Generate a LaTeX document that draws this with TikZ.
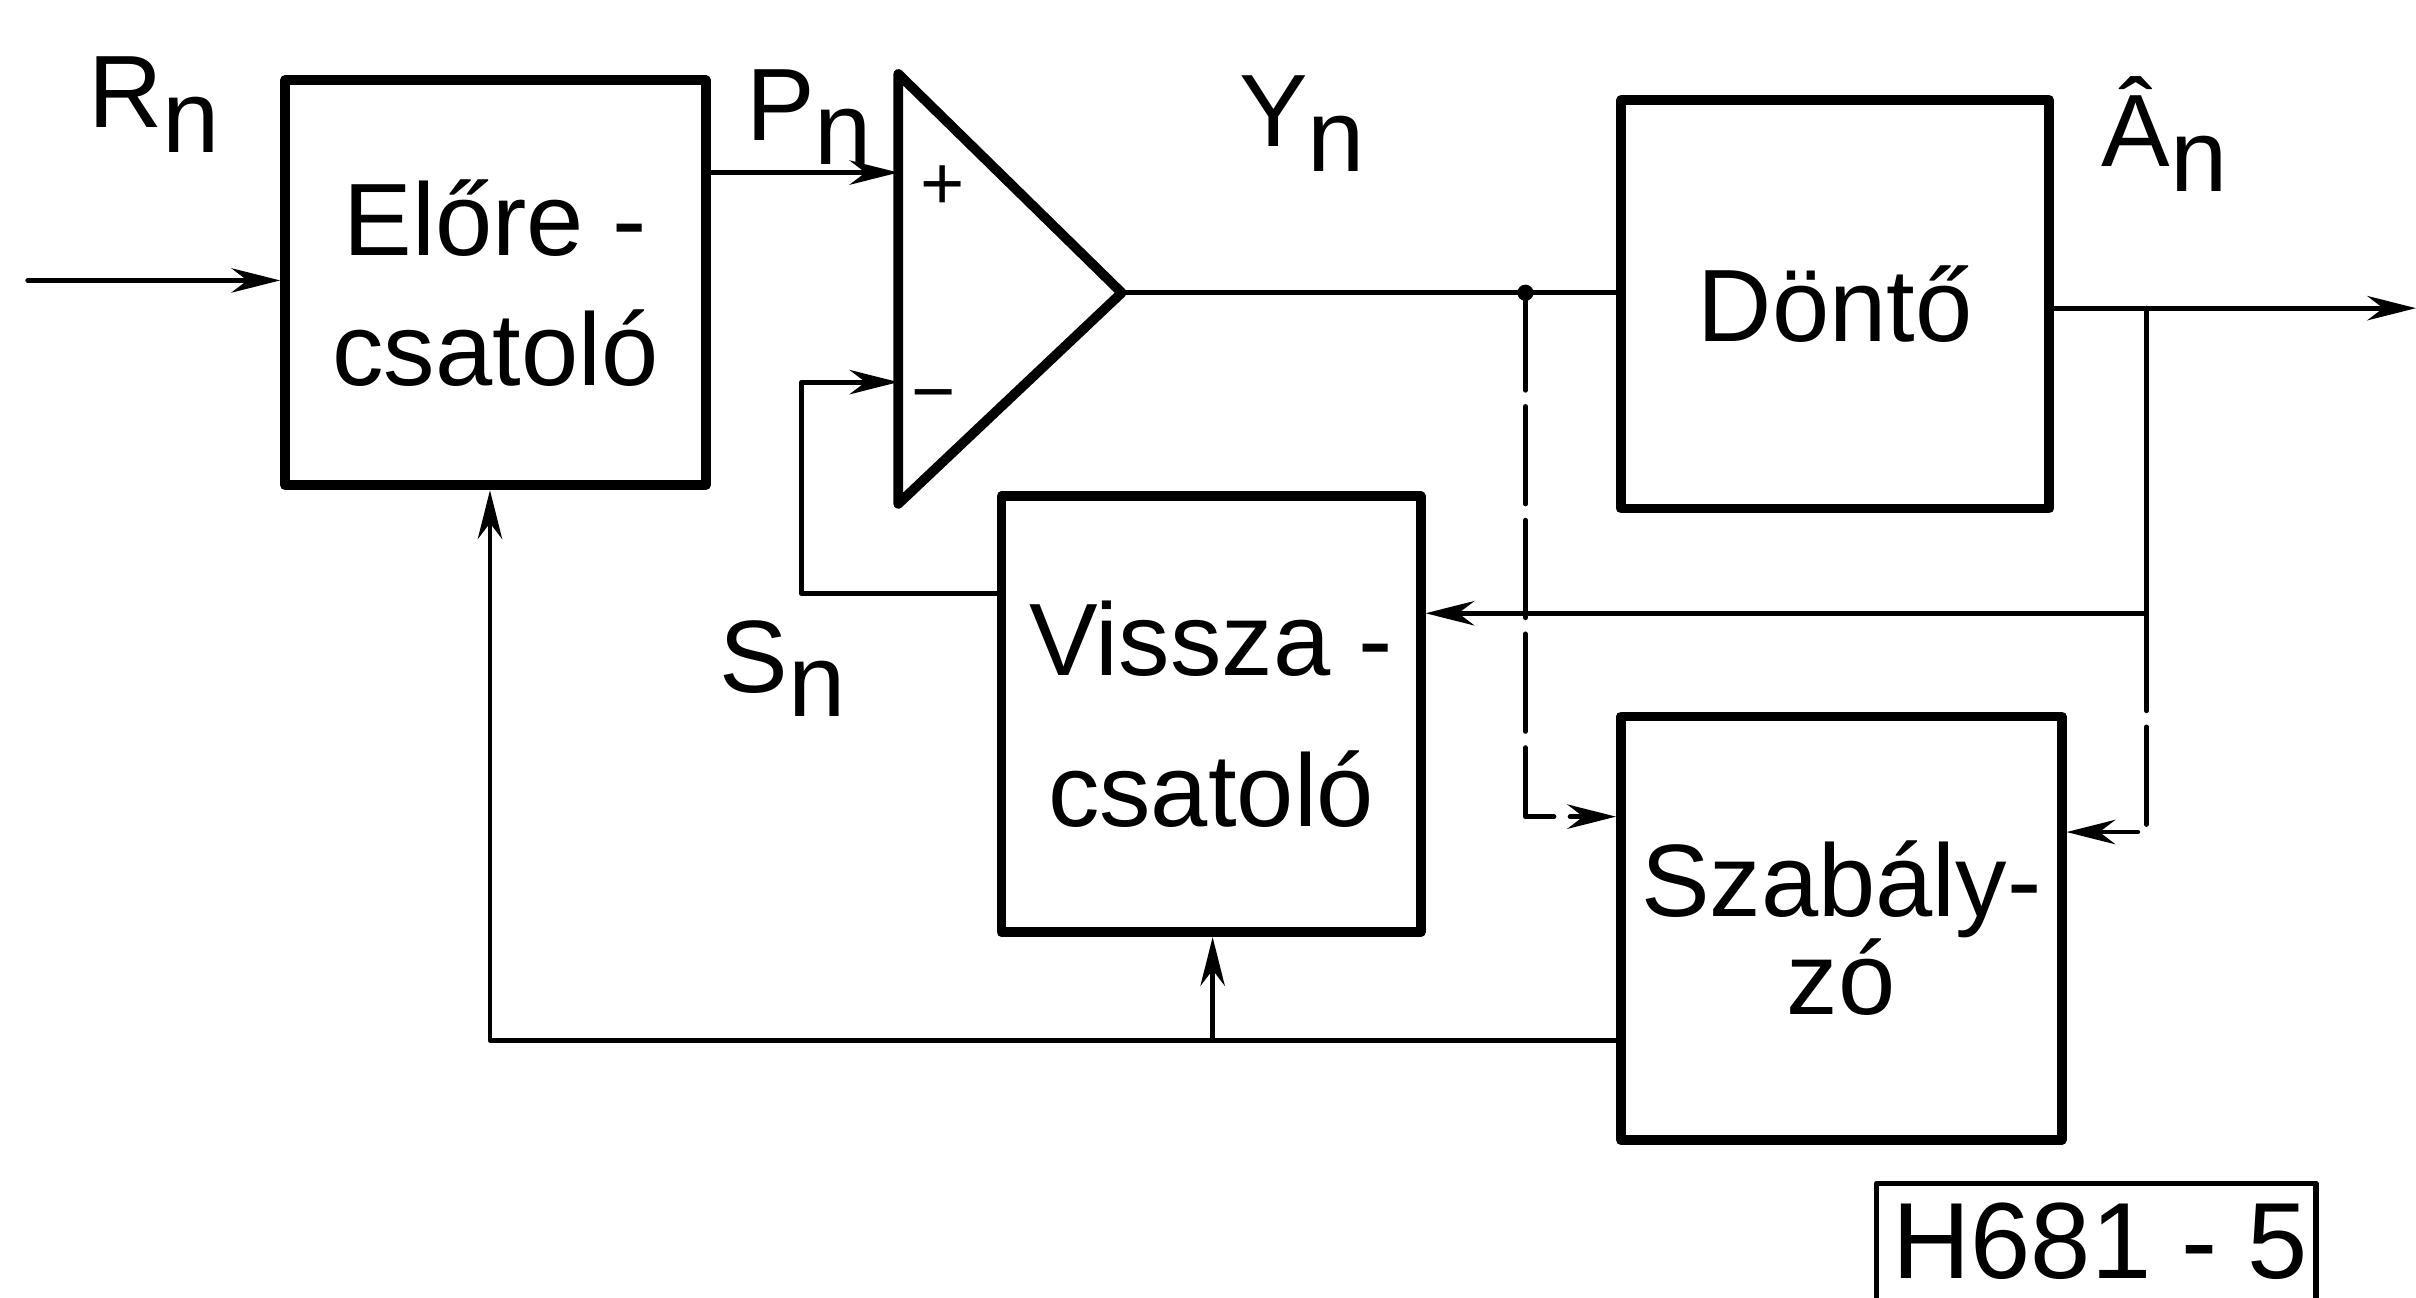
\documentclass[tikz,border=0pt]{standalone}
\usepackage{fontspec}
\setmainfont{Liberation Sans}
\usetikzlibrary{arrows.meta}
\newcommand{\idx}[2]{#1\raisebox{-.24em}{#2}}
\begin{document}
\begin{tikzpicture}[font=\fontsize{19}{24}\selectfont,line join=round,line cap=round,
  >={Stealth[length=9pt,width=4.5pt]},line width=0.9pt,
  blokk/.style={draw,line width=1.8pt,align=center,inner sep=0pt},
  szaggatott/.style={dash pattern=on 18pt off 3pt}]
\useasboundingbox (0,0) rectangle (15.68,8.42);
% blocks
\node[blokk,minimum width=2.73cm,minimum height=2.63cm] (elo) at (3.215,6.585) {Előre -\\csatoló};
\node[blokk,minimum width=2.78cm,minimum height=2.65cm] (dont) at (11.91,6.445) {Döntő};
\node[blokk,minimum width=2.72cm,minimum height=2.83cm] (vissza) at (7.86,3.785) {Vissza -\\[4pt]csatoló};
\node[blokk,minimum width=2.86cm,minimum height=2.75cm] (szab) at (11.95,2.395) {Szabály-\\[-6pt]zó};
% amplifier
\foreach \x/\y/\t in {5.83/7.94/ampT,5.83/5.15/ampB,7.28/6.52/ampO,5.83/7.30/plus,5.83/5.94/minus}
\coordinate (\t) at (\x,\y);
\draw[line width=1.8pt] (ampT)--(ampO)--(ampB)--cycle;
\node[font=\fontsize{14}{14}\selectfont] (pl) at (6.12,7.20) {+};
\node[font=\fontsize{14}{14}\selectfont] (mi) at (6.06,5.80) {−};
% junctions
\foreach \x/\y/\t in {0.18/6.60/in,9.90/6.52/jy,13.93/6.42/jd,15.68/6.42/out,13.93/4.44/fb,13.93/3.02/js,9.90/3.12/jys,5.20/4.57/sk,3.18/1.67/ab,7.87/1.67/vb}
\coordinate (\t) at (\x,\y);
% connectors
\draw[->] (in) -- (in -| elo.west);
\draw[->] (elo.east |- plus) -- (plus);
\draw (ampO) -- (jy) -- (jy -| dont.west);
\fill (jy) circle (1.5pt);
\draw[->] (dont.east |- jd) -- (jd) -- (out);
\draw[->] (jd) -- (fb) -- (fb -| vissza.east);
\draw[szaggatott,->] (fb) -- (js) -- (js -| szab.east);
\draw[szaggatott,->] (jy) -- (jys) -- (jys -| szab.west);
\draw[->] (vissza.west |- sk) -- (sk) |- (minus);
\draw[->] (szab.west |- ab) -- (ab) -- (ab |- elo.south);
\draw[->] (vb) -- (vb |- vissza.south);
% labels
\node (rn) at (1.00,7.74) {\idx{R}{n}};
\node (pn) at (5.25,7.66) {\idx{P}{n}};
\node (yn) at (8.45,7.62) {\idx{Y}{n}};
\node (an) at (14.05,7.55) {\idx{Â}{n}};
\node (sn) at (5.08,4.08) {\idx{S}{n}};
\node[anchor=base,font=\fontsize{20}{20}\selectfont] (jel) at (13.63,0.12) {H681 - 5};
\draw[line width=1pt] (12.18,-0.1) rectangle (15.03,0.74);
\end{tikzpicture}
\end{document}
